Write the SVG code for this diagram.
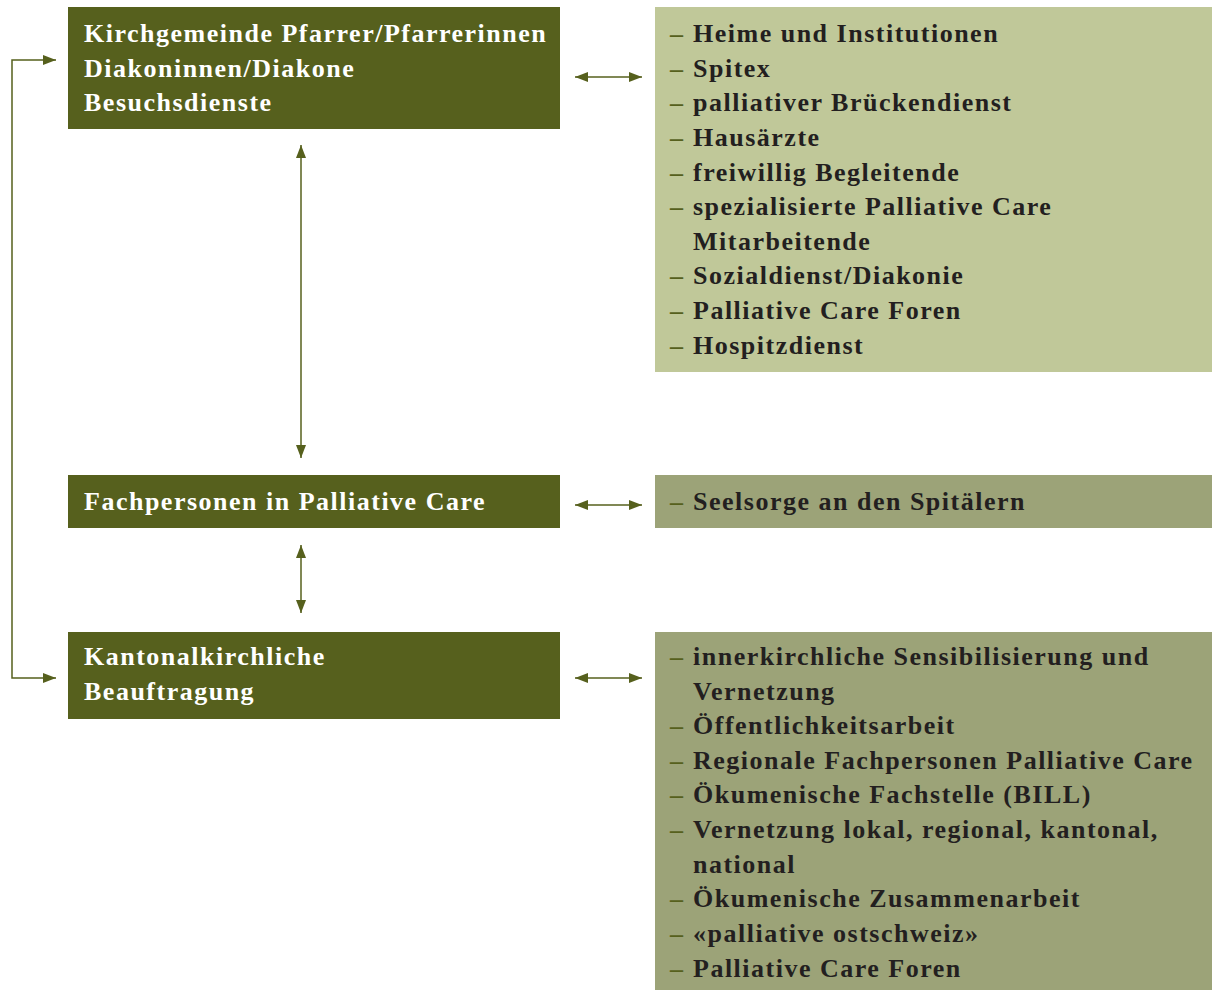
<svg xmlns="http://www.w3.org/2000/svg" width="1222" height="990" viewBox="0 0 1222 990">
<style>
.dark{fill:#56601d}
.light{fill:#c0c899}
.mid{fill:#9ca378}
.t{font-family:"Liberation Serif","DejaVu Serif",serif;font-weight:bold;font-size:26px;letter-spacing:1.5px}
.w{fill:#ffffff}
.k{fill:#231f20}
.d{fill:#56601d}
.c{fill:none;stroke:#56601d;stroke-width:1.5}
</style>
<defs>
<marker id="ah" viewBox="0 0 13 10" refX="13" refY="5" markerWidth="13" markerHeight="10" markerUnits="userSpaceOnUse" orient="auto-start-reverse">
<path d="M0,0 L13,5 L0,10 Z" fill="#56601d"/>
</marker>
</defs>
<rect width="1222" height="990" fill="#ffffff"/>
<g id="node-kirchgemeinde">
<rect class="dark" x="68" y="7" width="492" height="122"/>
<text class="t w" x="84" y="42">Kirchgemeinde Pfarrer/Pfarrerinnen</text>
<text class="t w" x="84" y="77">Diakoninnen/Diakone</text>
<text class="t w" x="84" y="111">Besuchsdienste</text>
</g>
<g id="node-fachpersonen">
<rect class="dark" x="68" y="475" width="492" height="53"/>
<text class="t w" x="84" y="510">Fachpersonen in Palliative Care</text>
</g>
<g id="node-kantonal">
<rect class="dark" x="68" y="632" width="492" height="87"/>
<text class="t w" x="84" y="665">Kantonalkirchliche</text>
<text class="t w" x="84" y="700">Beauftragung</text>
</g>
<g id="node-list1">
<rect class="light" x="655" y="7" width="557" height="365"/>
<g class="t">
<text x="670" y="42"><tspan class="d">–</tspan><tspan class="k" x="693">Heime und Institutionen</tspan></text>
<text x="670" y="77"><tspan class="d">–</tspan><tspan class="k" x="693">Spitex</tspan></text>
<text x="670" y="111"><tspan class="d">–</tspan><tspan class="k" x="693">palliativer Brückendienst</tspan></text>
<text x="670" y="146"><tspan class="d">–</tspan><tspan class="k" x="693">Hausärzte</tspan></text>
<text x="670" y="181"><tspan class="d">–</tspan><tspan class="k" x="693">freiwillig Begleitende</tspan></text>
<text x="670" y="215"><tspan class="d">–</tspan><tspan class="k" x="693">spezialisierte Palliative Care</tspan></text>
<text class="k" x="693" y="250">Mitarbeitende</text>
<text x="670" y="284"><tspan class="d">–</tspan><tspan class="k" x="693">Sozialdienst/Diakonie</tspan></text>
<text x="670" y="319"><tspan class="d">–</tspan><tspan class="k" x="693">Palliative Care Foren</tspan></text>
<text x="670" y="354"><tspan class="d">–</tspan><tspan class="k" x="693">Hospitzdienst</tspan></text>
</g>
</g>
<g id="node-list2">
<rect class="mid" x="655" y="475" width="557" height="53"/>
<text class="t" x="670" y="510"><tspan class="d">–</tspan><tspan class="k" x="693">Seelsorge an den Spitälern</tspan></text>
</g>
<g id="node-list3">
<rect class="mid" x="655" y="632" width="557" height="358"/>
<g class="t">
<text x="670" y="665"><tspan class="d">–</tspan><tspan class="k" x="693">innerkirchliche Sensibilisierung und</tspan></text>
<text class="k" x="693" y="700">Vernetzung</text>
<text x="670" y="734"><tspan class="d">–</tspan><tspan class="k" x="693">Öffentlichkeitsarbeit</tspan></text>
<text x="670" y="769"><tspan class="d">–</tspan><tspan class="k" x="693">Regionale Fachpersonen Palliative Care</tspan></text>
<text x="670" y="803"><tspan class="d">–</tspan><tspan class="k" x="693">Ökumenische Fachstelle (BILL)</tspan></text>
<text x="670" y="838"><tspan class="d">–</tspan><tspan class="k" x="693">Vernetzung lokal, regional, kantonal,</tspan></text>
<text class="k" x="693" y="873">national</text>
<text x="670" y="907"><tspan class="d">–</tspan><tspan class="k" x="693">Ökumenische Zusammenarbeit</tspan></text>
<text x="670" y="942"><tspan class="d">–</tspan><tspan class="k" x="693">«palliative ostschweiz»</tspan></text>
<text x="670" y="977"><tspan class="d">–</tspan><tspan class="k" x="693">Palliative Care Foren</tspan></text>
</g>
</g>
<g id="connectors">
<path class="c" d="M56,60 H12 V678 H56" marker-start="url(#ah)" marker-end="url(#ah)"/>
<path class="c" d="M301,145 V458" marker-start="url(#ah)" marker-end="url(#ah)"/>
<path class="c" d="M301,545 V613" marker-start="url(#ah)" marker-end="url(#ah)"/>
<path class="c" d="M575,77 H642" marker-start="url(#ah)" marker-end="url(#ah)"/>
<path class="c" d="M575,505 H642" marker-start="url(#ah)" marker-end="url(#ah)"/>
<path class="c" d="M575,678 H642" marker-start="url(#ah)" marker-end="url(#ah)"/>
</g>
</svg>
